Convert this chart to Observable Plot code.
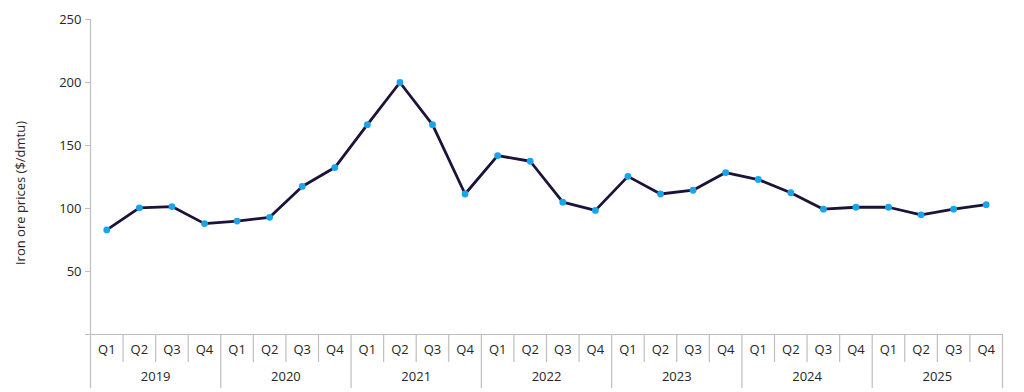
<!DOCTYPE html>
<html>
<head>
<meta charset="utf-8">
<script src="https://cdn.jsdelivr.net/npm/d3@7"></script>
<script src="https://cdn.jsdelivr.net/npm/@observablehq/plot@0.6"></script>
<style>
  html, body { margin: 0; padding: 0; background: #fff; }
  #chart svg { display: block; }
</style>
</head>
<body>
<div id="chart"></div>
<script>
const years = ["2019", "2020", "2021", "2022", "2023", "2024", "2025"];
const quarterLabels = ["Q1", "Q2", "Q3", "Q4"];
const prices = [
  83, 100.5, 101.5, 88,
  90, 93, 117.5, 132.5,
  166.5, 200, 166.5, 111.5,
  142, 137.5, 105, 98.5,
  125.5, 111.5, 114.5, 128.5,
  123, 112.5, 99.5, 101,
  101, 95, 99.5, 103
];
const yTicks = [0, 50, 100, 150, 200, 250];
const yTitle = "Iron ore prices ($/dmtu)";

const rows = years.flatMap((year, k) =>
  quarterLabels.map((q, j) => ({ i: k * 4 + j, year, q, price: prices[k * 4 + j] }))
);
const n = rows.length;
const boundaries = d3.range(0, n + 1);
const quarterBounds = boundaries.filter(b => b % 4 !== 0);
const yearBounds = boundaries.filter(b => b % 4 === 0);

const W = 1024, H = 392, mT = 19, mB = 58, mL = 90, mR = 22;
const innerH = H - mT - mB;
const gray = "#bfbfbf";
const ink = "#262626";
const font = "'Open Sans', sans-serif";
const fs = 13;

const chart = Plot.plot({
  width: W,
  height: H,
  marginTop: mT,
  marginBottom: mB,
  marginLeft: mL,
  marginRight: mR,
  style: { fontFamily: font, fontSize: fs + "px", color: ink, background: "#fff" },
  x: { type: "linear", domain: [0, n], axis: null },
  y: { domain: [0, 250], axis: null },
  marks: [
    Plot.axisY(yTicks, { tickSize: 5, stroke: gray, tickFormat: () => "", label: null }),
    Plot.axisY(yTicks.filter(t => t > 0), {
      tickSize: 0, tickPadding: 9, fill: ink, fontSize: fs, label: null
    }),
    Plot.text([yTitle], { text: d => d, frameAnchor: "left", textAnchor: "middle", lineAnchor: "middle", rotate: -90, dx: -70, dy: 16, fill: ink, fontSize: fs }),
    Plot.ruleY([0], { stroke: gray, strokeWidth: 1.2 }),
    Plot.ruleX([0], { stroke: gray, strokeWidth: 1.2 }),
    Plot.ruleX(quarterBounds, { x: d => d, stroke: gray, strokeWidth: 1.2, insetTop: innerH, insetBottom: -28 }),
    Plot.ruleX(yearBounds, { x: d => d, stroke: gray, strokeWidth: 1.2, insetTop: innerH, insetBottom: -54 }),
    Plot.line(rows, { x: d => d.i + 0.5, y: "price", stroke: "#1d1238", strokeWidth: 2.8 }),
    Plot.dot(rows, { x: d => d.i + 0.5, y: "price", r: 3.4, fill: "#18a5ee", stroke: "none" }),
    Plot.text(rows, { x: d => d.i + 0.5, text: "q", frameAnchor: "bottom", dy: 19, fill: ink, fontSize: fs }),
    Plot.text(years, { x: (d, k) => k * 4 + 2, text: d => d, frameAnchor: "bottom", dy: 46, fill: ink, fontSize: fs })
  ]
});
document.getElementById("chart").appendChild(chart);
</script>
</body>
</html>
